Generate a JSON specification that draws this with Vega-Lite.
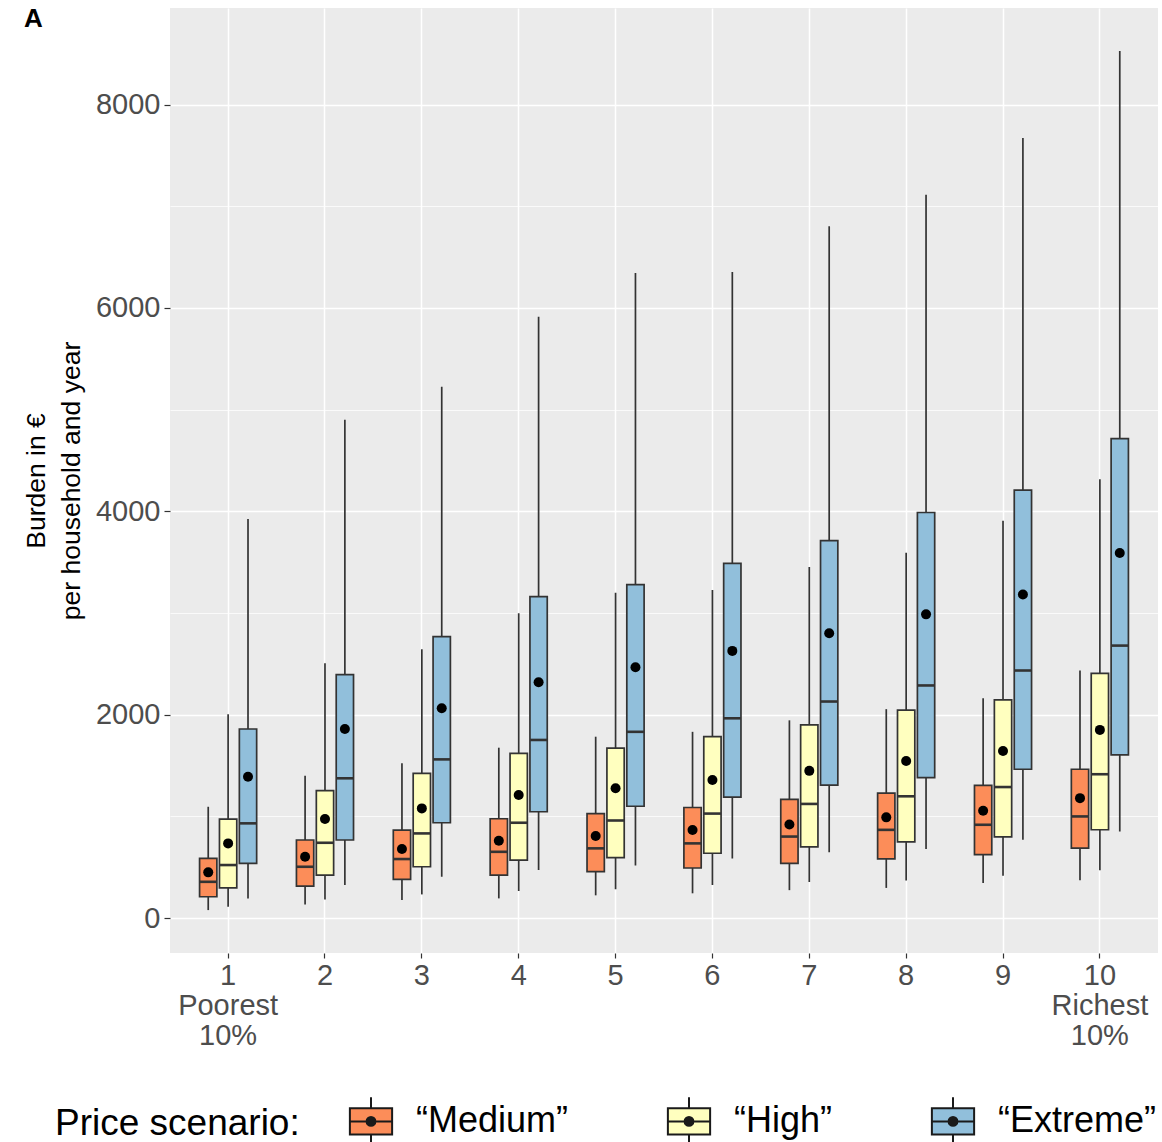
{
  "$schema": "https://vega.github.io/schema/vega-lite/v6.json",
  "width": 988,
  "height": 945,
  "autosize": {"type": "none"},
  "padding": {"left": 170, "top": 8, "right": 4, "bottom": 189},
  "background": "white",
  "config": {
    "font": "Liberation Sans",
    "view": {"fill": "#EBEBEB", "stroke": null},
    "axis": {"domain": false, "tickColor": "#333333", "labelColor": "#4D4D4D", "gridColor": "#FFFFFF"}
  },
  "title": {
    "text": "A",
    "anchor": "start",
    "frame": "group",
    "fontSize": 26,
    "fontWeight": "bold",
    "color": "#000000",
    "dx": -146,
    "dy": 24,
    "offset": 0
  },
  "data": {
    "values": [
      {"d": 1, "s": "Medium", "lo": 79, "q1": 210, "med": 357, "q3": 587, "hi": 1095, "mean": 450},
      {"d": 1, "s": "High", "lo": 111, "q1": 298, "med": 522, "q3": 974, "hi": 2004, "mean": 735},
      {"d": 1, "s": "Extreme", "lo": 194, "q1": 538, "med": 932, "q3": 1860, "hi": 3926, "mean": 1390},
      {"d": 2, "s": "Medium", "lo": 135, "q1": 315, "med": 505, "q3": 768, "hi": 1400, "mean": 603},
      {"d": 2, "s": "High", "lo": 184, "q1": 423, "med": 741, "q3": 1253, "hi": 2506, "mean": 974},
      {"d": 2, "s": "Extreme", "lo": 325, "q1": 768, "med": 1375, "q3": 2394, "hi": 4900, "mean": 1860},
      {"d": 3, "s": "Medium", "lo": 177, "q1": 381, "med": 581, "q3": 866, "hi": 1522, "mean": 679},
      {"d": 3, "s": "High", "lo": 233, "q1": 505, "med": 833, "q3": 1424, "hi": 2644, "mean": 1079},
      {"d": 3, "s": "Extreme", "lo": 406, "q1": 938, "med": 1561, "q3": 2768, "hi": 5225, "mean": 2063},
      {"d": 4, "s": "Medium", "lo": 194, "q1": 423, "med": 652, "q3": 977, "hi": 1676, "mean": 761},
      {"d": 4, "s": "High", "lo": 266, "q1": 571, "med": 938, "q3": 1621, "hi": 2998, "mean": 1210},
      {"d": 4, "s": "Extreme", "lo": 472, "q1": 1046, "med": 1752, "q3": 3162, "hi": 5914, "mean": 2319},
      {"d": 5, "s": "Medium", "lo": 224, "q1": 457, "med": 686, "q3": 1028, "hi": 1784, "mean": 807},
      {"d": 5, "s": "High", "lo": 284, "q1": 594, "med": 960, "q3": 1671, "hi": 3199, "mean": 1277},
      {"d": 5, "s": "Extreme", "lo": 518, "q1": 1100, "med": 1832, "q3": 3279, "hi": 6343, "mean": 2467},
      {"d": 6, "s": "Medium", "lo": 244, "q1": 493, "med": 735, "q3": 1088, "hi": 1832, "mean": 867},
      {"d": 6, "s": "High", "lo": 325, "q1": 638, "med": 1028, "q3": 1784, "hi": 3227, "mean": 1358},
      {"d": 6, "s": "Extreme", "lo": 586, "q1": 1189, "med": 1965, "q3": 3488, "hi": 6355, "mean": 2628},
      {"d": 7, "s": "Medium", "lo": 275, "q1": 538, "med": 802, "q3": 1167, "hi": 1945, "mean": 921},
      {"d": 7, "s": "High", "lo": 354, "q1": 701, "med": 1123, "q3": 1901, "hi": 3453, "mean": 1448},
      {"d": 7, "s": "Extreme", "lo": 648, "q1": 1308, "med": 2130, "q3": 3712, "hi": 6803, "mean": 2802},
      {"d": 8, "s": "Medium", "lo": 297, "q1": 582, "med": 868, "q3": 1229, "hi": 2055, "mean": 991},
      {"d": 8, "s": "High", "lo": 371, "q1": 749, "med": 1198, "q3": 2046, "hi": 3594, "mean": 1545},
      {"d": 8, "s": "Extreme", "lo": 679, "q1": 1382, "med": 2288, "q3": 3989, "hi": 7114, "mean": 2987},
      {"d": 9, "s": "Medium", "lo": 345, "q1": 624, "med": 918, "q3": 1305, "hi": 2162, "mean": 1055},
      {"d": 9, "s": "High", "lo": 416, "q1": 798, "med": 1289, "q3": 2146, "hi": 3907, "mean": 1644},
      {"d": 9, "s": "Extreme", "lo": 771, "q1": 1464, "med": 2435, "q3": 4208, "hi": 7671, "mean": 3182},
      {"d": 10, "s": "Medium", "lo": 373, "q1": 689, "med": 1000, "q3": 1464, "hi": 2435, "mean": 1180},
      {"d": 10, "s": "High", "lo": 471, "q1": 869, "med": 1415, "q3": 2407, "hi": 4317, "mean": 1851},
      {"d": 10, "s": "Extreme", "lo": 853, "q1": 1606, "med": 2680, "q3": 4715, "hi": 8528, "mean": 3591}
    ]
  },
  "encoding": {
    "x": {
      "field": "d",
      "type": "ordinal",
      "title": null,
      "scale": {"paddingInner": 0, "paddingOuter": 0.1},
      "axis": {
        "labelAngle": 0,
        "bandPosition": 0.5,
        "grid": true,
        "gridWidth": 1.5,
        "tickSize": 5,
        "tickWidth": 1.2,
        "labelFontSize": 29,
        "labelPadding": 3,
        "labelLineHeight": 30,
        "labelExpr": "datum.label == '1' ? ['1', 'Poorest', '10%'] : datum.label == '10' ? ['10', 'Richest', '10%'] : datum.label"
      }
    },
    "xOffset": {
      "field": "s",
      "type": "nominal",
      "scale": {"domain": ["Medium", "High", "Extreme"], "paddingInner": 0.13, "paddingOuter": 1.05}
    }
  },
  "layer": [
    {
      "mark": {"type": "rule", "color": "#333333", "strokeWidth": 1.7},
      "encoding": {
        "y": {
          "field": "lo",
          "type": "quantitative",
          "scale": {"domain": [-343, 8950], "nice": false, "zero": false},
          "title": ["Burden in €", "per household and year"],
          "axis": {
            "values": [0, 1000, 2000, 3000, 4000, 5000, 6000, 7000, 8000],
            "format": "d",
            "labelExpr": "datum.value % 2000 === 0 ? datum.label : ''",
            "grid": true,
            "gridWidth": {"condition": {"test": "datum.value % 2000 === 0", "value": 1.5}, "value": 0.75},
            "tickOpacity": {"condition": {"test": "datum.value % 2000 === 0", "value": 1}, "value": 0},
            "tickSize": 6,
            "tickWidth": 1.2,
            "labelFontSize": 29,
            "labelPadding": 4,
            "titleFontSize": 26.5,
            "titleFontWeight": "normal",
            "titleColor": "#000000",
            "titleLineHeight": 35,
            "titlePadding": 10
          }
        },
        "y2": {"field": "hi"}
      }
    },
    {
      "mark": {"type": "bar", "stroke": "#333333", "strokeWidth": 1.7},
      "encoding": {
        "y": {"field": "q1", "type": "quantitative"},
        "y2": {"field": "q3"},
        "fill": {
          "field": "s",
          "type": "nominal",
          "scale": {"domain": ["Medium", "High", "Extreme"], "range": ["#FC8D59", "#FFFFBF", "#91BFDB"]},
          "legend": {
            "orient": "none",
            "legendX": -115,
            "legendY": 1090,
            "direction": "horizontal",
            "title": "Price scenario:",
            "titleOrient": "left",
            "titleFontSize": 37,
            "titleFontWeight": "normal",
            "titleColor": "#000000",
            "titleLimit": 500,
            "titlePadding": 48,
            "titleAnchor": "middle",
            "titleBaseline": "middle",
            "labelFontSize": 36,
            "labelColor": "#000000",
            "labelLimit": 400,
            "labelOffset": 22,
            "columnPadding": 94,
            "symbolType": "M-0.96,-0.6H0.96V0.6H-0.96Z M0,-0.6V-1.1 M0,0.6V1.1 M-0.96,0H0.96 M0.045,0A0.045,0.045,0,1,1,-0.045,0A0.045,0.045,0,1,1,0.045,0Z M0.12,0A0.12,0.12,0,1,1,-0.12,0A0.12,0.12,0,1,1,0.12,0Z M0.2,0A0.2,0.2,0,1,1,-0.2,0A0.2,0.2,0,1,1,0.2,0Z",
            "symbolSize": 1936,
            "symbolStrokeColor": "#1A1A1A",
            "symbolStrokeWidth": 2,
            "symbolOpacity": 1,
            "labelExpr": "'“' + datum.label + '”'"
          }
        }
      }
    },
    {
      "mark": {"type": "tick", "color": "#333333", "thickness": 2.6, "size": 17, "opacity": 1},
      "encoding": {
        "y": {"field": "med", "type": "quantitative"}
      }
    },
    {
      "mark": {"type": "point", "shape": "circle", "filled": true, "color": "#000000", "opacity": 1, "size": 100},
      "encoding": {
        "y": {"field": "mean", "type": "quantitative"}
      }
    }
  ]
}
